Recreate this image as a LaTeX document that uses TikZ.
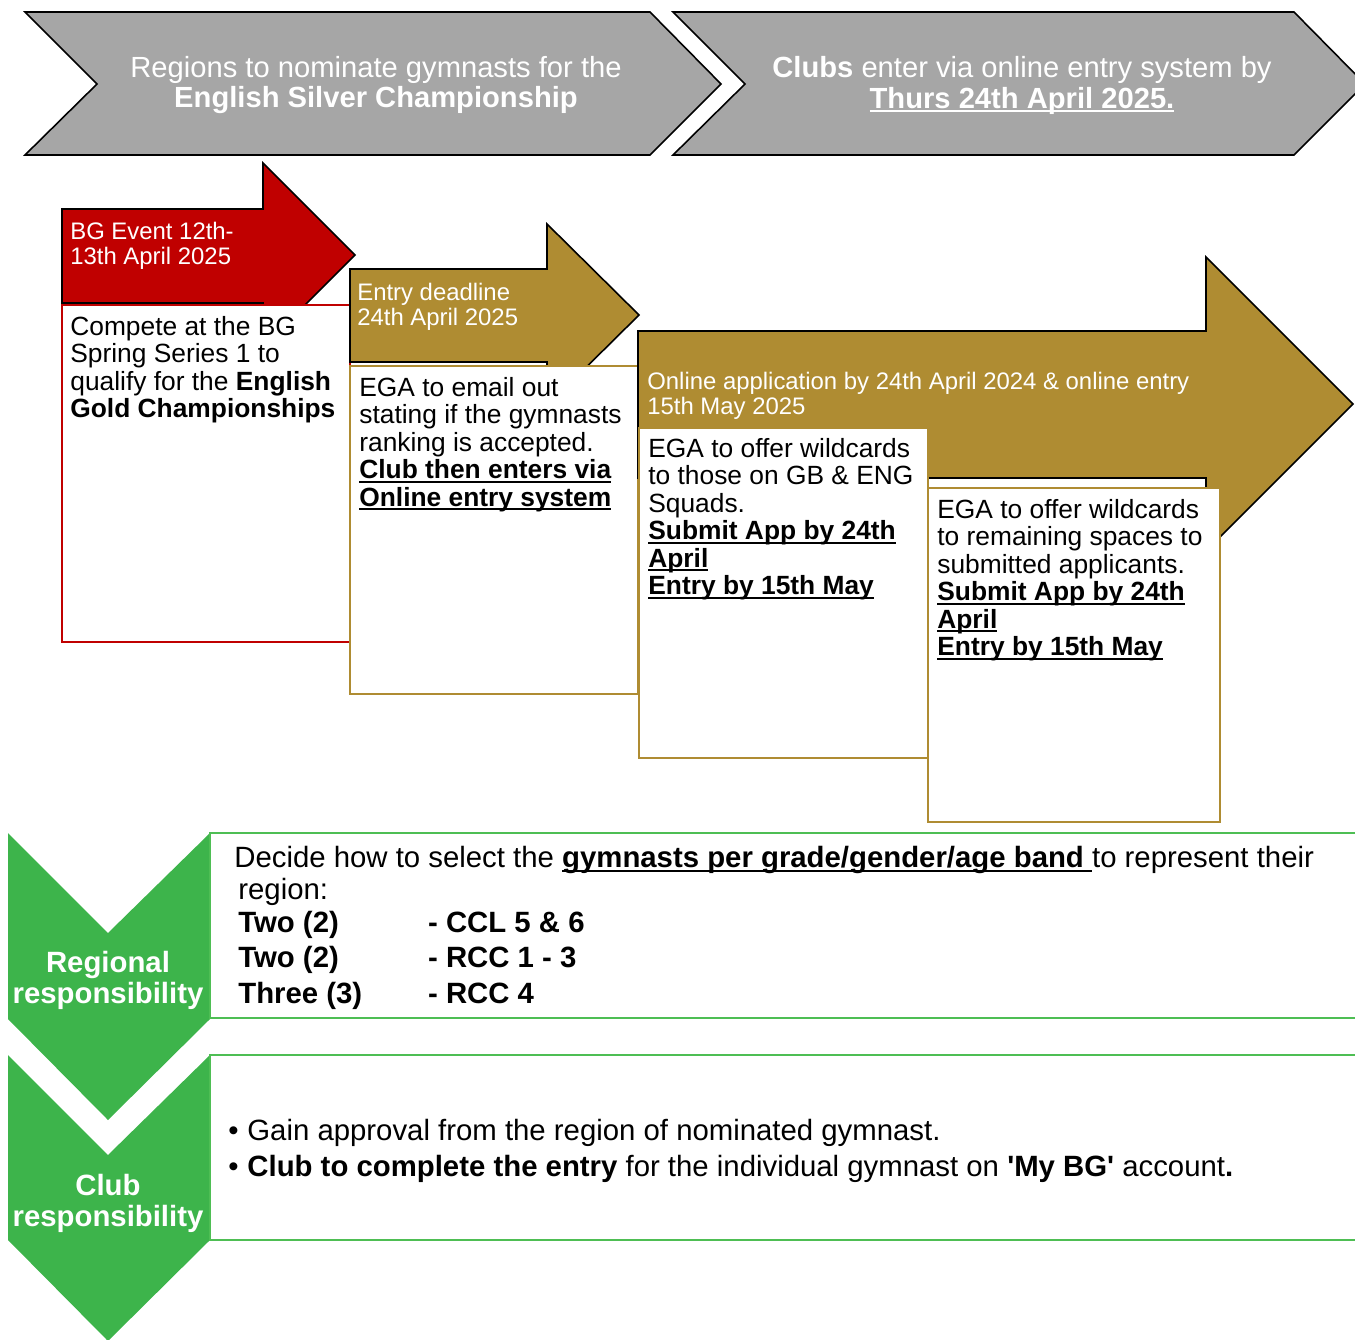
\documentclass[tikz,border=0pt]{standalone}
\usepackage{fontspec}
\setmainfont{Liberation Sans}[Ligatures=TeXOff]
\definecolor{bgred}{RGB}{192,0,0}
\definecolor{bggold}{RGB}{175,140,50}
\definecolor{bggrey}{RGB}{166,166,166}
\definecolor{bggreen}{RGB}{61,180,75}
\definecolor{bgline}{RGB}{78,190,84}
\newcommand{\greyfont}{\fontsize{16.6}{17.6}\selectfont}
\newcommand{\tagfont}{\fontsize{13.6}{14.1}\selectfont}
\newcommand{\boxfont}{\fontsize{15}{15.6}\selectfont}
\newcommand{\greenfont}{\fontsize{16.7}{20.2}\selectfont}
% underline with a heavier rule
\newcommand{\uln}[1]{\leavevmode\setbox0\hbox{#1}\rlap{\rule[-2.3pt]{\wd0}{1.1pt}}\box0}

\begin{document}
\begin{tikzpicture}[x=0.02cm,y=-0.02cm,
	chev/.style={draw=black,line width=0.9pt,fill=bggrey},
	arr/.style={draw=black,line width=0.9pt,fill=#1},
	infobox/.style={draw=#1,line width=1.2pt,fill=white},
	lbl/.style={inner sep=0pt,anchor=north west,align=left},
	wtext/.style={text=white,inner sep=0pt}]
	\useasboundingbox (0,0) rectangle (1355,1339);
	\def\chevone{(25,12) -- (650,12) -- (721,84) -- (650,155) -- (25,155) -- (97,84) -- cycle}
	\def\chevtwo{(673,12) -- (1294,12) -- (1365,84) -- (1294,155) -- (673,155) -- (745,84) -- cycle}
	\def\redarrow{(62,209) -- (263,209) -- (263,163) -- (355,255) -- (263,347) -- (263,303) -- (62,303) -- cycle}
	\def\goldarrow{(350,269) -- (547,269) -- (547,224) -- (639,315) -- (547,406) -- (547,362) -- (350,362) -- cycle}
	\def\bigarrow{(638,331) -- (1206,331) -- (1206,257) -- (1353,404) -- (1206,551) -- (1206,478) -- (638,478) -- cycle}
	% grey banners
	\draw[chev] \chevone;
	\draw[chev] \chevtwo;
	\node[wtext,align=center,font=\greyfont] (nominate) at (376,85) {Regions to nominate gymnasts for the\\\textbf{English Silver Championship}};
	\node[wtext,align=center,font=\greyfont] (clubs) at (1022,85) {\textbf{Clubs} enter via online entry system by\\\uln{\textbf{Thurs 24th April 2025.}}};
	% timeline arrows and boxes
	\draw[arr=bgred] \redarrow;
	\draw[infobox=bgred] (62,305) rectangle (350,642);
	\draw[arr=bggold] \goldarrow;
	\draw[infobox=bggold] (350,366) rectangle (638,694);
	\draw[arr=bggold] \bigarrow;
	\draw[infobox=bggold] (639,428) rectangle (928,758);
	\draw[infobox=bggold] (928,488) rectangle (1220,822);
	\node[lbl,wtext,anchor=north west,font=\tagfont] (event) at (70,222) {BG Event 12th-\\13th April 2025};
	\node[lbl,font=\boxfont] (compete) at (70,316) {Compete at the BG\\Spring Series 1 to\\qualify for the \textbf{English}\\\textbf{Gold Championships}};
	\node[lbl,wtext,anchor=north west,font=\tagfont] (deadline) at (357,283) {Entry deadline\\24th April 2025};
	\node[lbl,font=\boxfont] (email) at (359,377) {EGA to email out\\stating if the gymnasts\\ranking is accepted.\\\uln{\textbf{Club then enters via}}\\\uln{\textbf{Online entry system}}};
	\node[lbl,wtext,anchor=north west,font=\tagfont] (online) at (647,372) {Online application by 24th April 2024 \& online entry\\15th May 2025};
	\node[lbl,font=\boxfont] (squads) at (648,438) {EGA to offer wildcards\\to those on GB \& ENG\\Squads.\\\uln{\textbf{Submit App by 24th}}\\\uln{\textbf{April}}\\\uln{\textbf{Entry by 15th May}}};
	\node[lbl,font=\boxfont] (spaces) at (937,499) {EGA to offer wildcards\\to remaining spaces to\\submitted applicants.\\\uln{\textbf{Submit App by 24th}}\\\uln{\textbf{April}}\\\uln{\textbf{Entry by 15th May}}};
	% responsibilities
	\fill[bggreen] (8,833) -- (108,933) -- (210,833) -- (210,1019) -- (108,1120) -- (8,1019) -- cycle;
	\fill[bggreen] (8,1055) -- (108,1155) -- (210,1055) -- (210,1240) -- (108,1341) -- (8,1240) -- cycle;
	\draw[bgline,line width=1.6pt] (1360,833) -- (210,833) -- (210,1018) -- (1360,1018);
	\draw[bgline,line width=1.6pt] (1360,1055) -- (210,1055) -- (210,1240) -- (1360,1240);
	\node[wtext,align=center,font=\greenfont\bfseries] (regional) at (108,980) {Regional\\[-2.6pt]responsibility};
	\node[wtext,align=center,font=\greenfont\bfseries] (club) at (108,1203) {Club\\[-2.6pt]responsibility};
	\node[lbl,font=\greenfont] (decide) at (234,846) {Decide how to select the \uln{\textbf{gymnasts per grade/gender/age band }}to represent their};
	\node[lbl,font=\greenfont] (quota) at (238,878) {region:\\
		\begin{tabular}{@{}p{108pt}@{}l@{}}
		\textbf{Two (2)} & \textbf{- CCL 5 \& 6}\\
		\textbf{Two (2)} & \textbf{- RCC 1 - 3}\\
		\textbf{Three (3)} & \textbf{- RCC 4}
		\end{tabular}};
	\node[lbl,font=\greenfont] (approval) at (228,1119) {•\hspace{5pt}Gain approval from the region of nominated gymnast.\\•\hspace{5pt}\textbf{Club to complete the entry} for the individual gymnast on \textbf{'My BG'} account\textbf{.}};
\end{tikzpicture}
\end{document}
